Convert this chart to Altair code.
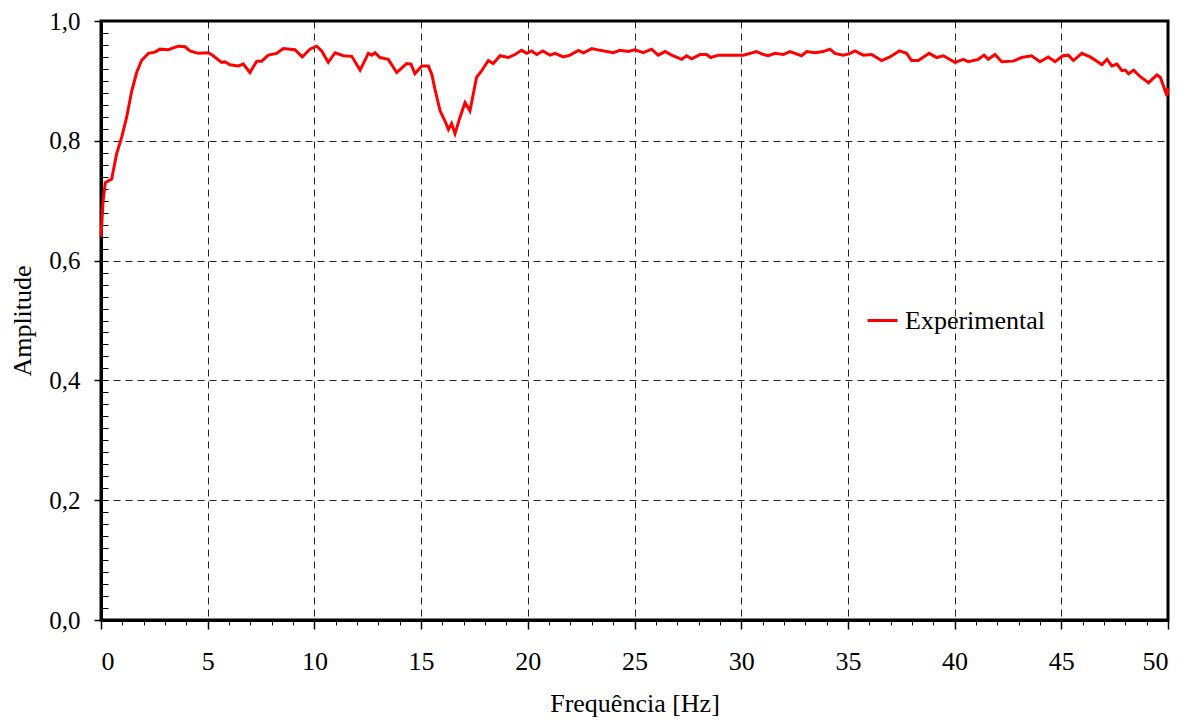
import altair as alt
import pandas as pd

freq = [0.0, 0.1, 0.2, 0.5, 0.73, 0.97, 1.2, 1.44, 1.67, 1.9, 2.22, 2.53, 2.76, 3.15, 3.62, 3.94,
        4.17, 4.56, 5.03, 5.26, 5.65, 5.81, 6.04, 6.43, 6.67, 6.98, 7.30, 7.53, 7.84, 8.23, 8.54,
        9.09, 9.43, 9.79, 10.11, 10.34, 10.65, 10.97, 11.36, 11.75, 12.14, 12.53, 12.69, 12.84,
        13.07, 13.46, 13.86, 14.32, 14.53, 14.71, 15.03, 15.34, 15.50, 15.65, 15.89, 16.12, 16.28,
        16.43, 16.59, 16.82, 17.06, 17.29, 17.60, 17.84, 18.15, 18.38, 18.70, 19.09, 19.40, 19.71,
        19.95, 20.18, 20.42, 20.70, 21.04, 21.28, 21.66, 21.98, 22.37, 22.61, 23.00, 23.38, 23.70,
        24.01, 24.32, 24.71, 25.02, 25.41, 25.80, 26.11, 26.43, 26.74, 27.21, 27.44, 27.68, 28.07,
        28.38, 28.57, 28.93, 29.47, 30.10, 30.72, 31.04, 31.27, 31.58, 31.97, 32.29, 32.52, 32.83,
        33.07, 33.46, 33.84, 34.16, 34.39, 34.78, 35.06, 35.33, 35.72, 36.11, 36.58, 36.97, 37.41,
        37.75, 37.98, 38.30, 38.81, 39.16, 39.47, 40.02, 40.41, 40.64, 41.11, 41.38, 41.58, 41.89,
        42.21, 42.75, 43.14, 43.61, 44.00, 44.39, 44.71, 45.07, 45.33, 45.57, 45.96, 46.35, 46.74,
        46.90, 47.14, 47.37, 47.61, 47.84, 48.00, 48.15, 48.39, 48.70, 49.09, 49.48, 49.64, 49.95,
        50.0]
amp = [0.640, 0.700, 0.730, 0.736, 0.778, 0.806, 0.839, 0.883, 0.914, 0.934, 0.946, 0.948, 0.953,
       0.952, 0.958, 0.957, 0.950, 0.946, 0.947, 0.942, 0.931, 0.932, 0.927, 0.925, 0.928, 0.914,
       0.933, 0.933, 0.943, 0.946, 0.954, 0.952, 0.940, 0.953, 0.958, 0.950, 0.931, 0.947, 0.942,
       0.941, 0.918, 0.946, 0.943, 0.947, 0.939, 0.936, 0.914, 0.929, 0.928, 0.912, 0.925, 0.925,
       0.911, 0.886, 0.850, 0.833, 0.819, 0.829, 0.812, 0.839, 0.864, 0.850, 0.906, 0.917, 0.934,
       0.929, 0.942, 0.939, 0.944, 0.951, 0.946, 0.950, 0.944, 0.950, 0.943, 0.946, 0.940, 0.943,
       0.951, 0.947, 0.954, 0.951, 0.949, 0.947, 0.951, 0.949, 0.952, 0.947, 0.953, 0.943, 0.949,
       0.943, 0.936, 0.942, 0.937, 0.944, 0.944, 0.939, 0.943, 0.943, 0.943, 0.949, 0.944, 0.942,
       0.946, 0.944, 0.949, 0.946, 0.942, 0.949, 0.947, 0.949, 0.953, 0.946, 0.943, 0.945, 0.950,
       0.943, 0.944, 0.934, 0.940, 0.950, 0.946, 0.934, 0.934, 0.946, 0.939, 0.942, 0.931, 0.936,
       0.932, 0.936, 0.943, 0.936, 0.944, 0.932, 0.933, 0.939, 0.942, 0.932, 0.940, 0.932, 0.942,
       0.943, 0.934, 0.946, 0.940, 0.931, 0.927, 0.936, 0.925, 0.928, 0.917, 0.918, 0.912, 0.918,
       0.907, 0.897, 0.910, 0.906, 0.875, 0.888]

series_name = "Experimental"
x_major = [0, 5, 10, 15, 20, 25, 30, 35, 40, 45, 50]
x_minor = list(range(0, 51))
y_major = [0.0, 0.2, 0.4, 0.6, 0.8, 1.0]
y_minor = [round(i * 0.02, 2) for i in range(0, 51)]

df = pd.DataFrame({"freq": freq, "amp": amp, "series": [series_name] * len(freq)})

FONT = "Liberation Serif"
xs = alt.Scale(domain=[0, 50], nice=False, zero=False)
ys = alt.Scale(domain=[0, 1], nice=False, zero=False)

main = alt.Chart(df).mark_line(strokeWidth=3).encode(
    x=alt.X("freq:Q", scale=xs, axis=alt.Axis(
        values=x_major, tickSize=9, tickWidth=1.5, labelPadding=19, grid=True,
        title="Frequência [Hz]", titlePadding=16, format="d")),
    y=alt.Y("amp:Q", scale=ys, axis=alt.Axis(
        values=y_major, tickSize=7, tickWidth=1.5, labelPadding=14, grid=True,
        labelFontSize=25,
        labelExpr="replace(format(datum.value, '.1f'), '.', ',')",
        title="Amplitude", titlePadding=13)),
    color=alt.Color("series:N",
                    scale=alt.Scale(domain=[series_name], range=["#ff0000"]),
                    legend=alt.Legend(title="", orient="none", legendX=765, legendY=283,
                                      symbolType="stroke", symbolSize=900,
                                      symbolStrokeWidth=3, labelFont=FONT,
                                      labelFontSize=26, labelColor="black",
                                      labelOffset=6, padding=0)),
)

minor_x = alt.Chart(df).mark_line(opacity=0).encode(
    x=alt.X("freq:Q", scale=xs, axis=alt.Axis(
        values=x_minor, tickSize=5, tickWidth=1, labels=False, domain=False,
        grid=False, title="", orient="bottom")),
    y=alt.Y("amp:Q", scale=ys, axis=None),
)

minor_y = alt.Chart(df).mark_line(opacity=0).encode(
    x=alt.X("freq:Q", scale=xs, axis=None),
    y=alt.Y("amp:Q", scale=ys, axis=alt.Axis(
        values=y_minor, tickSize=7, tickWidth=1, labels=False, domain=False,
        grid=False, title="", orient="left", offset=-7)),
)

chart = alt.layer(main, minor_x, minor_y).resolve_scale(
    x="independent", y="independent"
).resolve_axis(
    x="independent", y="independent"
).properties(
    width=1067, height=599,
    autosize=alt.AutoSizeParams(type="none"),
    padding={"left": 93, "top": 13, "right": 10, "bottom": 100},
).configure_axis(
    labelFont=FONT, labelFontSize=26, labelColor="black",
    titleFont=FONT, titleFontSize=26, titleFontWeight="normal", titleColor="black",
    domainColor="black", domainWidth=3, tickColor="black",
    gridColor="black", gridDash=[7, 5], gridWidth=1, gridOpacity=0.85,
).configure_view(
    stroke="black", strokeWidth=3
)

chart.save("out.html", embed_options={"renderer": "svg", "actions": False})
